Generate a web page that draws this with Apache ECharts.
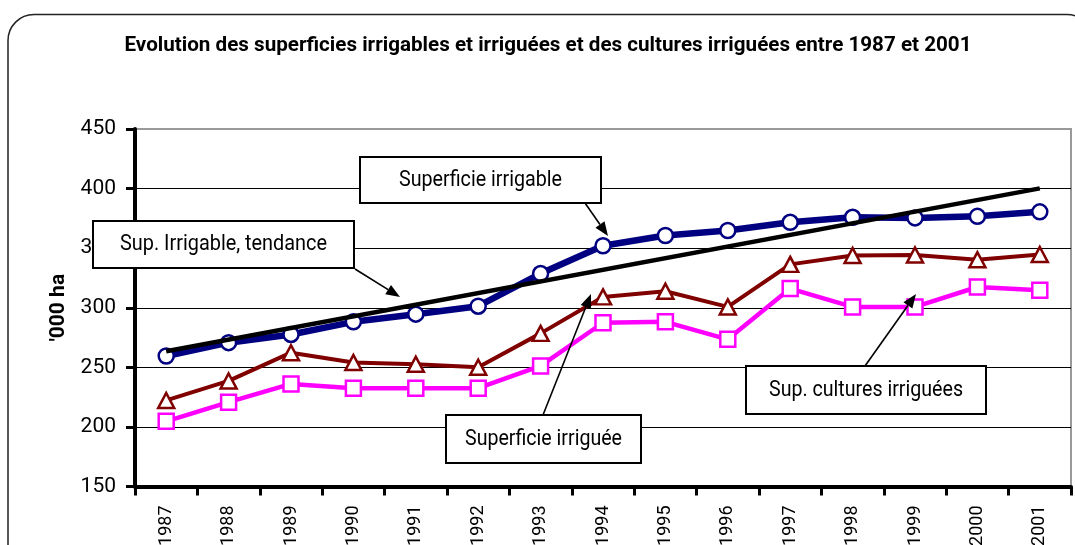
<!DOCTYPE html>
<html>
<head>
<meta charset="utf-8">
<script src="https://cdn.jsdelivr.net/npm/echarts@6/dist/echarts.min.js"></script>
<style>
html,body{margin:0;padding:0;background:#fff;}
#chart{width:1075px;height:545px;}
</style>
</head>
<body>
<div id="chart"></div>
<script>
// ---- data ----
var years = ['1987','1988','1989','1990','1991','1992','1993','1994','1995','1996','1997','1998','1999','2000','2001'];
var supIrrigable = [259.5, 270.7, 277.6, 288.2, 294.6, 301.3, 328.7, 352.0, 360.6, 364.8, 371.7, 375.9, 375.4, 376.7, 380.5];
var supIrriguee = [222.2, 238.6, 262.3, 254.0, 252.6, 250.1, 278.5, 309.1, 313.8, 300.7, 336.4, 343.9, 344.3, 340.3, 344.7];
var supCultures = [204.7, 220.8, 236.1, 232.5, 232.5, 232.5, 251.2, 287.4, 288.2, 273.5, 316.1, 300.7, 300.7, 317.4, 314.7];
var trendIrrigable = [263.5, null, null, null, null, null, null, null, null, null, null, null, null, null, 400.2];
var yTicks = [150, 200, 250, 300, 350, 400, 450];
var titleText = 'Evolution des superficies irrigables et irriguées et des cultures irriguées entre 1987 et 2001';
var yName = "'000 ha";
var labels = ['Superficie irrigable', 'Sup. Irrigable, tendance', 'Superficie irriguée', 'Sup. cultures irriguées'];

var FONT = 'Roboto';

// measure helper to emulate a narrow typeface by horizontal scaling
var mctx = document.createElement('canvas').getContext('2d');
function fitScale(text, weight, size, target) {
  mctx.font = weight + ' ' + size + 'px ' + FONT;
  var w = mctx.measureText(text).width;
  return w > 0 ? target / w : 1;
}

var chart = echarts.init(document.getElementById('chart'), null, {renderer: 'canvas'});

function scaledText(text, cx, cy, weight, size, targetW, z) {
  return {
    type: 'text', z: z, x: cx, y: cy, scaleX: fitScale(text, weight, size, targetW), scaleY: 1,
    style: {text: text, x: 0, y: 0, textAlign: 'center', textVerticalAlign: 'middle',
            fontFamily: FONT, fontWeight: weight, fontSize: size, fill: '#000'}
  };
}

function callout(text, targetW, bx, by, bw, bh, x1, y1, x2, y2) {
  var dx = x2 - x1, dy = y2 - y1, L = Math.sqrt(dx*dx + dy*dy);
  var ux = dx / L, uy = dy / L, hl = 14, hw = 5.5;
  var baseX = x2 - ux*hl, baseY = y2 - uy*hl;
  return [
    {type:'line', z:100, shape:{x1:x1, y1:y1, x2:baseX, y2:baseY}, style:{stroke:'#000', lineWidth:1.6}},
    {type:'polygon', z:100, shape:{points:[[x2,y2],[baseX - uy*hw, baseY + ux*hw],[baseX + uy*hw, baseY - ux*hw]]}, style:{fill:'#000'}},
    {type:'rect', z:101, shape:{x:bx, y:by, width:bw, height:bh}, style:{fill:'#fff', stroke:'#000', lineWidth:2}},
    scaledText(text, bx + bw/2, by + bh/2, 'normal', 22, targetW, 102)
  ];
}

var graphics = [
  {type:'rect', z:0, shape:{x:8, y:14.5, width:1085, height:620, r:26}, style:{fill:'none', stroke:'#222', lineWidth:1.5}},
  scaledText(titleText, 548, 46, 'bold', 21, 847, 10)
];
graphics = graphics
  .concat(callout(labels[0], 163, 360, 157, 241, 46, 585, 203, 608, 236))
  .concat(callout(labels[1], 207, 93, 221, 261, 47, 355, 269, 400, 297))
  .concat(callout(labels[2], 157, 446, 415, 195, 48, 543, 415, 591, 294))
  .concat(callout(labels[3], 194, 746, 366, 240, 48, 865, 366, 916, 294));

var option = {
  animation: false,
  backgroundColor: '#fff',
  grid: {left: 135, right: 4, top: 129, bottom: 58.5, containLabel: false, outerBoundsMode: 'none',
         show: true, borderColor: '#999', borderWidth: 2, backgroundColor: 'transparent'},
  xAxis: {
    type: 'category', data: years, boundaryGap: true,
    axisLine: {show: true, lineStyle: {color: '#000', width: 4}},
    axisTick: {show: true, interval: 0, length: 9, lineStyle: {color: '#000', width: 3}},
    axisLabel: {rotate: 90, interval: 0, margin: 19, fontFamily: FONT, fontSize: 18, color: '#000'},
    splitLine: {show: false}
  },
  yAxis: {
    type: 'value', min: yTicks[0], max: yTicks[yTicks.length-1], interval: 50,
    name: yName, nameLocation: 'middle', nameGap: 64, nameRotate: 90,
    nameTextStyle: {fontFamily: FONT, fontWeight: 'bold', fontSize: 21, color: '#000'},
    axisLine: {show: true, lineStyle: {color: '#000', width: 4}},
    axisTick: {show: true, length: 9, lineStyle: {color: '#000', width: 3}},
    axisLabel: {margin: 19, fontFamily: FONT, fontSize: 21, color: '#000'},
    splitLine: {show: true, lineStyle: {color: ['#000','#000','#000','#000','#000','#000','#999'], width: 1}}
  },
  series: [
    {
      name: 'Superficie irrigable', type: 'line', data: supIrrigable, z: 3,
      symbol: 'circle', symbolSize: 15,
      lineStyle: {color: '#000080', width: 6.5},
      itemStyle: {color: '#fff', borderColor: '#000080', borderWidth: 2.5}
    },
    {
      name: 'Superficie irriguée', type: 'line', data: supIrriguee, z: 3,
      symbol: 'triangle', symbolSize: [16, 15],
      lineStyle: {color: '#800000', width: 4},
      itemStyle: {color: '#fff', borderColor: '#800000', borderWidth: 2.5}
    },
    {
      name: 'Sup. cultures irriguées', type: 'line', data: supCultures, z: 3,
      symbol: 'rect', symbolSize: 15,
      lineStyle: {color: '#ff00ff', width: 4.5},
      itemStyle: {color: '#fff', borderColor: '#ff00ff', borderWidth: 2.5}
    },
    {
      name: 'Sup. Irrigable, tendance', type: 'line', data: trendIrrigable, z: 4,
      connectNulls: true, symbol: 'none',
      lineStyle: {color: '#000', width: 4.5}
    }
  ],
  graphic: graphics
};
chart.setOption(option);
</script>
</body>
</html>
